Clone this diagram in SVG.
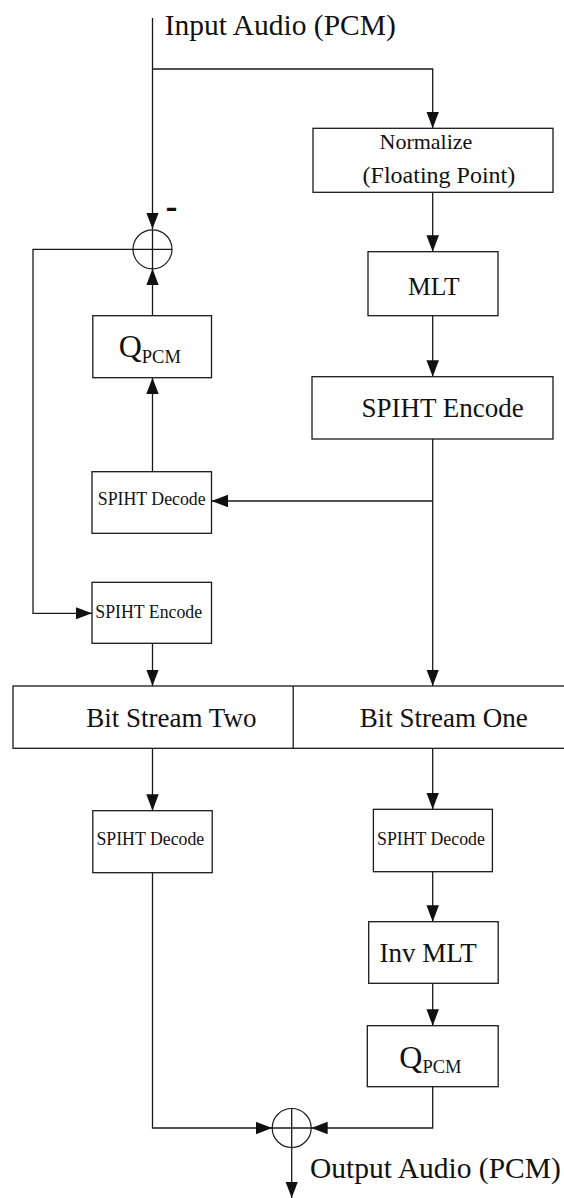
<svg xmlns="http://www.w3.org/2000/svg" width="564" height="1198" viewBox="0 0 564 1198">
  <style>
    .box { fill: #ffffff; stroke: #1a1a1a; stroke-width: 1.3; }
    .ln { fill: none; stroke: #1a1a1a; stroke-width: 1.3; }
    .arr { fill: none; stroke: #1a1a1a; stroke-width: 1.3; marker-end: url(#head); }
    .sum { fill: none; stroke: #1a1a1a; stroke-width: 1.2; }
    text { font-family: "Liberation Serif", "Times New Roman", serif; fill: #111111; }
    .big { font-size: 29.5px; }
    .lbl { font-size: 27px; }
    .sm { font-size: 17.8px; }
    .q { font-size: 32px; }
    .sub { font-size: 18.5px; }
    .minus { font-family: "Liberation Sans", Arial, sans-serif; font-weight: bold; font-size: 28px; }
  </style>
  <defs>
    <marker id="head" markerUnits="userSpaceOnUse" markerWidth="17" markerHeight="13" refX="16.5" refY="6.25" orient="auto">
      <path d="M0,0 L16.5,6.25 L0,12.5 Z" fill="#111111"/>
    </marker>
  </defs>

  <rect width="564" height="1198" fill="#ffffff"/>

  <!-- signal flow lines -->
  <g id="connectors">
    <!-- input feed -->
    <path class="arr" d="M152.5,18 V229"/>
    <path class="arr" d="M152.5,69 H432.7 V128.3"/>
    <!-- encoder chain -->
    <path class="arr" d="M432.7,192.3 V251.7"/>
    <path class="arr" d="M432.7,315.7 V376.7"/>
    <path class="arr" d="M432.7,439 V686"/>
    <path class="arr" d="M432.7,501 H211.5"/>
    <!-- residual loop -->
    <path class="arr" d="M152.5,471.7 V377.7"/>
    <path class="arr" d="M152.5,315.7 V268.8"/>
    <path class="arr" d="M133,249.3 H33 V613.3 H92"/>
    <path class="arr" d="M152.5,643.3 V686"/>
    <!-- decoder side -->
    <path class="arr" d="M152.5,748.3 V810.7"/>
    <path class="arr" d="M432.7,748.3 V809.3"/>
    <path class="arr" d="M432.7,871.7 V921.7"/>
    <path class="arr" d="M432.7,983.3 V1025.7"/>
    <path class="arr" d="M152.5,872.7 V1128 H272.2"/>
    <path class="arr" d="M432.7,1086.7 V1128 H311.2"/>
    <path class="arr" d="M291.7,1147.5 V1198"/>
  </g>

  <g id="input-label">
    <text class="big" x="164.7" y="35">Input Audio (PCM)</text>
  </g>

  <g id="normalize">
    <rect class="box" x="313" y="128.3" width="240" height="64"/>
    <text x="379.5" y="149" style="font-size:22px">Normalize</text>
    <text x="362.6" y="182.7" style="font-size:24px">(Floating Point)</text>
  </g>

  <g id="mlt">
    <rect class="box" x="368" y="251.7" width="130" height="64"/>
    <text x="408" y="295" style="font-size:25.5px">MLT</text>
  </g>

  <g id="spiht-encode-1">
    <rect class="box" x="312" y="376.7" width="241" height="62.3"/>
    <text class="lbl" x="361.5" y="416.7">SPIHT Encode</text>
  </g>

  <g id="subtract">
    <circle class="sum" cx="152.5" cy="249.3" r="19.5"/>
    <path class="ln" d="M133,249.3 H172 M152.5,229.8 V268.8"/>
    <text class="minus" x="165.5" y="216.5" textLength="12" lengthAdjust="spacingAndGlyphs">-</text>
  </g>

  <g id="qpcm-1">
    <rect class="box" x="92.8" y="315.7" width="118.7" height="62"/>
    <text class="q" x="118.7" y="356.7">Q<tspan class="sub" dy="6">PCM</tspan></text>
  </g>

  <g id="spiht-decode-1">
    <rect class="box" x="92" y="471.7" width="119.5" height="61.6"/>
    <text class="sm" x="97.8" y="505">SPIHT Decode</text>
  </g>

  <g id="spiht-encode-2">
    <rect class="box" x="92" y="582.3" width="119.5" height="61"/>
    <text class="sm" x="95.3" y="618.3">SPIHT Encode</text>
  </g>

  <g id="bit-streams">
    <rect class="box" x="13" y="686" width="560" height="62.3"/>
    <path class="ln" d="M293.2,686 V748.3"/>
    <text class="lbl" x="86.3" y="726.7">Bit Stream Two</text>
    <text class="lbl" x="359.7" y="726.7">Bit Stream One</text>
  </g>

  <g id="spiht-decode-2">
    <rect class="box" x="92.8" y="810.7" width="119.4" height="62"/>
    <text class="sm" x="96.4" y="845">SPIHT Decode</text>
  </g>

  <g id="spiht-decode-3">
    <rect class="box" x="373.4" y="809.3" width="119" height="62.4"/>
    <text class="sm" x="377" y="845">SPIHT Decode</text>
  </g>

  <g id="inv-mlt">
    <rect class="box" x="368.7" y="921.7" width="129.5" height="61.6"/>
    <text class="lbl" x="379.5" y="961.7">Inv MLT</text>
  </g>

  <g id="qpcm-2">
    <rect class="box" x="367.3" y="1025.7" width="130.9" height="61"/>
    <text class="q" x="399.3" y="1068.3">Q<tspan class="sub" dy="4.5">PCM</tspan></text>
  </g>

  <g id="add">
    <circle class="sum" cx="291.7" cy="1128" r="19.5"/>
    <path class="ln" d="M272.2,1128 H311.2 M291.7,1108.5 V1147.5"/>
  </g>

  <g id="output-label">
    <text class="big" x="310" y="1178.3">Output Audio (PCM)</text>
  </g>
</svg>
